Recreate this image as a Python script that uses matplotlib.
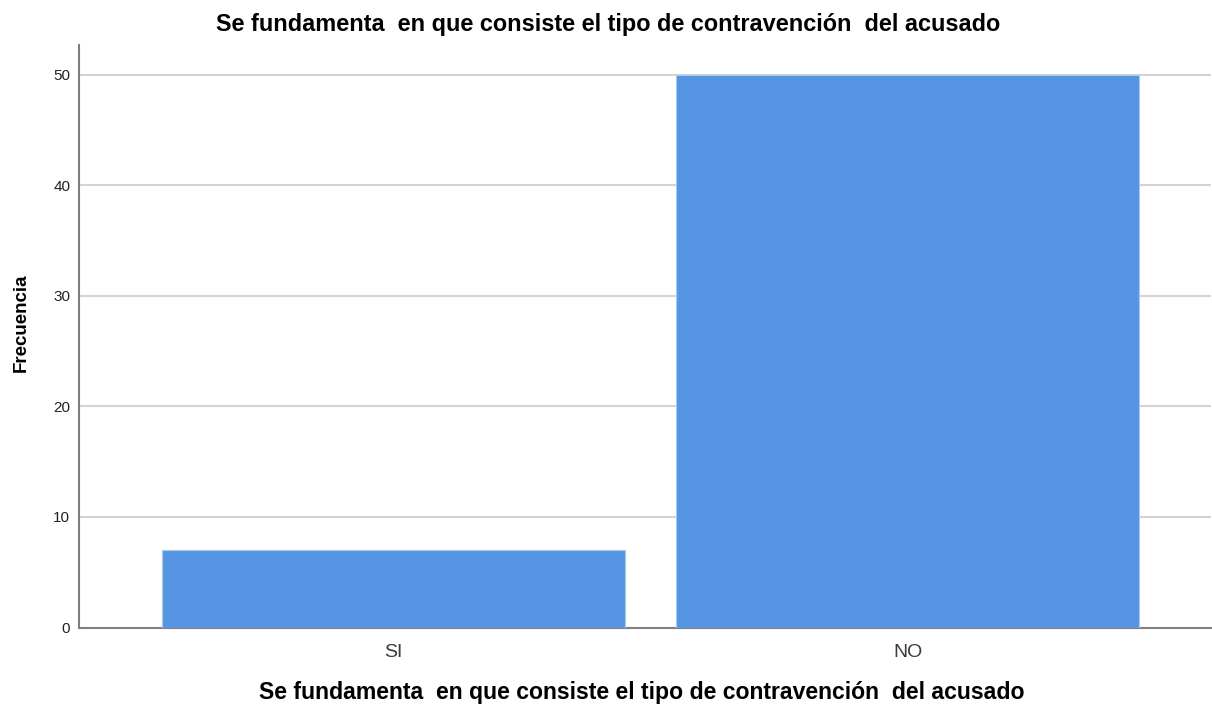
import matplotlib
matplotlib.use("Agg")
import matplotlib.pyplot as plt

# ------------------------------------------------------------------ #
#  Data
# ------------------------------------------------------------------ #

categories = ["SI", "NO"]
frecuencia = [7, 50]
y_ticks    = [0, 10, 20, 30, 40, 50]

TITLE = "Se fundamenta  en que consiste el tipo de contravención  del acusado"

plt.rcParams["font.family"] = ["Liberation Sans", "DejaVu Sans"]

fig = plt.figure(figsize=(12.12, 7.11), dpi=100)
ax = fig.add_axes([0.0648, 0.1174, 0.9345, 0.8193])

x = list(range(len(categories)))
ax.bar(x, frecuencia, width=0.9, color="#5595e3", edgecolor="#a9c9f0",
       linewidth=0.8, zorder=3)

ax.set_xlim(-0.612, 1.59)
ax.set_ylim(0, 52.7)
ax.set_yticks(y_ticks)
ax.set_xticks(x)
ax.set_xticklabels(categories, fontsize=14, color="#3a3a3a")
ax.tick_params(axis="y", length=0, labelsize=11, pad=6, labelcolor="#222222")
ax.tick_params(axis="x", length=0, pad=12)

ax.grid(axis="y", color="#d4d4d4", linewidth=1.5, zorder=0)
ax.set_axisbelow(True)

for side in ("top", "right"):
    ax.spines[side].set_visible(False)
for side in ("left", "bottom"):
    ax.spines[side].set_color("#808080")
    ax.spines[side].set_linewidth(1.5)

# axis titles
fig.text(21 / 1212, 1 - 323 / 711, "Frecuencia", rotation=90,
         ha="center", va="center", fontsize=13.5, fontweight="bold")
fig.text(642 / 1212, 1 - 693 / 711, TITLE, ha="center", va="center",
         fontsize=16.6, fontweight="bold")
fig.text(608 / 1212, 1 - 25 / 711, TITLE, ha="center", va="center",
         fontsize=16.9, fontweight="bold")

fig.savefig("out.png", dpi=100)
